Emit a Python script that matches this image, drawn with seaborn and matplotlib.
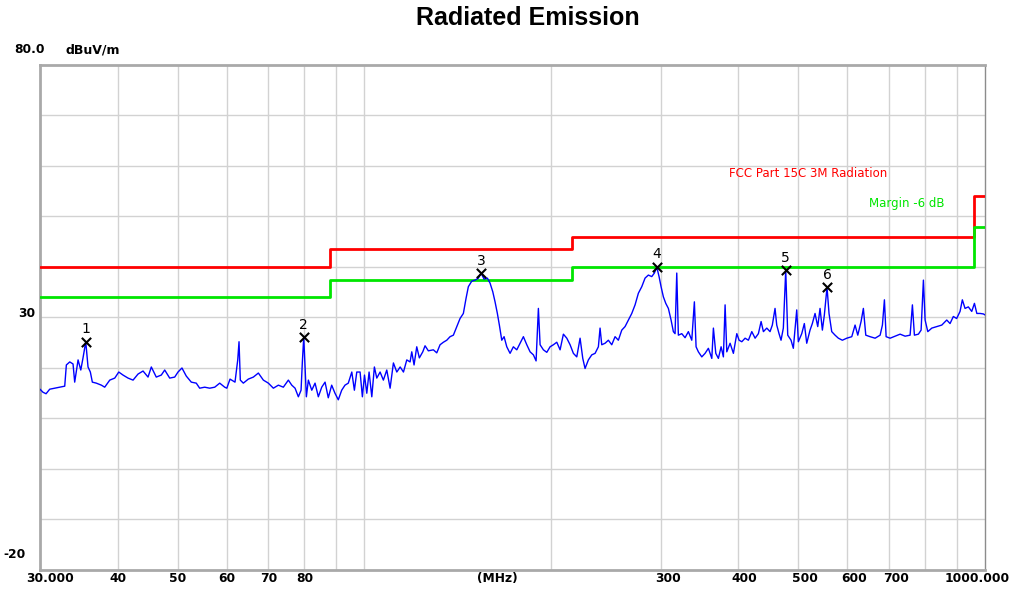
import numpy as np
import pandas as pd
import seaborn as sns
import matplotlib.pyplot as plt
from matplotlib.ticker import NullLocator

trace_freq = [
    30.0, 30.33, 30.68, 31.10, 31.68, 32.28, 32.88, 33.08, 33.50, 33.91,
    34.12, 34.55, 34.90, 35.19, 35.55, 35.85, 36.16, 36.43, 36.97, 37.67,
    38.14, 38.86, 39.59, 40.18, 40.82, 41.59, 42.37, 43.16, 43.97, 44.79,
    45.34, 46.18, 47.05, 47.65, 48.54, 49.45, 50.06, 50.80, 51.62, 52.59,
    53.57, 54.25, 55.27, 56.31, 57.37, 58.44, 59.53, 60.00, 60.72, 61.85,
    62.48, 62.78, 63.08, 63.79, 64.98, 66.21, 67.45, 68.71, 70.00, 71.31,
    72.65, 74.00, 75.39, 76.35, 77.29, 78.24, 79.03, 79.41, 79.82, 80.21,
    80.60, 81.20, 82.23, 83.24, 84.26, 85.33, 86.39, 87.43, 88.54, 89.63,
    90.74, 91.89, 93.02, 94.17, 95.40, 96.32, 97.18, 98.38, 99.22, 100.0,
    100.86, 101.72, 102.75, 103.74, 104.67, 105.96, 107.26, 108.62, 109.97, 111.33,
    112.74, 114.15, 115.56, 116.99, 118.43, 119.17, 120.19, 121.40, 122.58, 124.14,
    125.20, 126.74, 129.12, 130.76, 132.37, 134.00, 135.70, 137.37, 139.07, 140.83,
    142.56, 144.32, 145.77, 147.02, 148.89, 150.73, 152.58, 154.12, 155.84, 157.76,
    159.35, 160.96, 162.33, 163.73, 164.95, 166.43, 167.86, 169.55, 171.63, 173.74,
    175.97, 178.13, 180.33, 182.62, 184.87, 187.15, 189.03, 190.65, 191.86, 194.22,
    196.69, 199.11, 201.56, 204.12, 206.64, 209.18, 211.84, 214.45, 217.08, 219.83,
    222.54, 224.78, 226.70, 229.50, 232.41, 235.28, 238.18, 239.67, 241.18, 244.16,
    247.17, 250.30, 253.39, 256.51, 259.77, 262.97, 266.21, 269.59, 272.91, 276.28,
    279.79, 283.23, 286.72, 290.36, 293.18, 295.80, 298.33, 300.56, 303.13, 305.84,
    308.81, 311.92, 314.59, 316.58, 318.58, 320.48, 324.55, 328.55, 332.61, 336.83,
    340.10, 342.25, 345.18, 349.57, 353.87, 358.23, 362.81, 364.97, 368.23, 371.80,
    375.55, 378.76, 381.16, 383.57, 388.30, 393.08, 398.08, 401.49, 405.53, 410.52,
    415.58, 420.86, 426.04, 431.28, 435.64, 439.37, 444.94, 450.33, 454.18, 458.76,
    461.66, 465.61, 469.08, 473.11, 477.34, 480.90, 486.82, 490.99, 497.22, 500.19,
    506.54, 511.45, 516.02, 522.38, 526.85, 532.17, 537.52, 542.12, 546.85, 550.88,
    556.36, 560.51, 566.17, 573.23, 580.29, 588.97, 598.67, 609.88, 617.39, 623.61,
    631.29, 636.71, 642.41, 652.73, 665.06, 677.52, 683.32, 688.41, 692.76, 703.12,
    716.29, 729.69, 743.35, 757.25, 763.74, 769.43, 780.94, 788.80, 795.56, 800.59,
    808.66, 820.74, 836.10, 851.78, 867.53, 878.23, 889.05, 900.0, 911.43, 919.24,
    928.49, 939.92, 951.87, 961.42, 970.03, 981.98, 994.08, 1000.0,
]
trace_level = [
    15.8, 15.2, 14.9, 15.8, 16.0, 16.2, 16.4, 20.6, 21.2, 20.8,
    17.2, 21.6, 19.6, 22.0, 25.2, 20.2, 19.2, 17.2, 17.0, 16.6,
    16.2, 17.6, 18.0, 19.2, 18.6, 18.0, 17.6, 18.8, 19.4, 18.2,
    20.2, 18.2, 18.6, 19.6, 18.0, 18.2, 19.2, 20.0, 18.4, 17.2,
    17.0, 16.0, 16.2, 16.0, 16.2, 17.0, 16.2, 16.0, 17.8, 17.2,
    21.6, 25.2, 17.6, 17.0, 17.8, 18.2, 19.0, 17.6, 17.0, 16.0,
    16.6, 16.2, 17.6, 16.6, 16.0, 14.3, 15.6, 21.2, 26.1, 20.2,
    14.3, 17.6, 15.6, 17.0, 14.3, 16.2, 17.2, 14.1, 16.6, 15.0,
    13.7, 15.6, 16.6, 17.0, 19.2, 15.6, 19.2, 19.2, 14.3, 18.6,
    15.0, 19.2, 14.3, 20.2, 18.0, 19.2, 17.6, 19.6, 16.0, 21.0,
    19.2, 20.2, 19.2, 21.6, 21.2, 23.2, 20.6, 24.2, 22.0, 23.2,
    24.4, 23.4, 23.6, 23.0, 24.6, 25.1, 25.5, 26.2, 26.5, 28.2,
    29.8, 30.8, 33.8, 36.1, 37.2, 37.4, 37.8, 38.8, 37.6, 37.8,
    36.8, 35.1, 33.1, 30.8, 28.5, 25.5, 26.2, 24.2, 22.9, 24.2,
    23.6, 24.9, 26.2, 24.6, 23.2, 22.6, 21.4, 31.8, 24.6, 23.6,
    23.1, 24.2, 24.6, 25.1, 23.6, 26.7, 25.9, 24.6, 22.9, 22.2,
    25.9, 21.9, 19.9, 21.6, 22.6, 22.9, 24.2, 27.9, 24.6, 24.9,
    25.5, 24.6, 26.2, 25.5, 27.5, 28.2, 29.5, 30.8, 32.5, 34.8,
    36.1, 37.8, 38.4, 38.1, 38.8, 40.0, 38.1, 36.1, 34.1, 32.8,
    31.8, 29.5, 27.2, 26.8, 38.8, 26.5, 26.8, 26.0, 27.2, 25.5,
    33.1, 24.2, 23.2, 22.2, 22.9, 23.9, 21.9, 27.9, 22.9, 21.9,
    24.2, 22.2, 32.5, 23.2, 24.9, 22.9, 26.8, 25.5, 25.2, 25.9,
    25.5, 27.2, 25.9, 26.8, 29.2, 27.2, 27.9, 27.2, 28.5, 31.8,
    28.5, 26.8, 25.5, 27.9, 39.4, 26.5, 25.5, 23.9, 31.5, 25.2,
    26.8, 28.8, 24.9, 27.5, 28.8, 30.8, 28.2, 31.8, 27.5, 30.5,
    36.0, 30.8, 27.2, 26.5, 25.9, 25.5, 25.9, 26.2, 28.5, 26.5,
    29.2, 31.8, 26.5, 26.2, 25.9, 26.5, 28.5, 33.5, 26.2, 25.9,
    26.3, 26.7, 26.3, 26.5, 32.5, 26.5, 26.7, 27.5, 37.4, 29.5,
    27.2, 27.9, 28.2, 28.5, 29.5, 28.8, 30.2, 29.8, 31.2, 33.5,
    31.8, 32.1, 31.2, 32.8, 30.8, 30.8, 30.7, 30.5,
]

# FCC Part 15C 3 m limit and the -6 dB margin line
limit_edges = [30, 88, 216, 960, 1000]
fcc_limit = [40.0, 43.5, 46.0, 54.0, 54.0]
margin_limit = [34.0, 37.5, 40.0, 48.0, 48.0]

# marked peaks
peak_freq = [35.55, 79.82, 154.12, 295.80, 477.34, 556.36]
peak_level = [25.2, 26.1, 38.8, 40.0, 39.4, 36.0]
peak_no = ["1", "2", "3", "4", "5", "6"]

grid_freq = [40, 50, 60, 70, 80, 90, 100, 200, 300, 400, 500, 600, 700, 800, 900]
grid_level = [-10, 0, 10, 20, 30, 40, 50, 60, 70]
x_labels = ["30.000", "40", "50", "60", "70", "80", "(MHz)",
            "300", "400", "500", "600", "700", "1000.000"]
x_label_pos = [31.1, 40, 50, 60, 70, 80, 163.6, 308, 410, 513, 616, 718, 971]
y_labels = ["80.0", "30", "-20"]
y_label_pos = [83.0, 30.8, -17.0]
y_label_x = [-0.0116, -0.0143, -0.0265]

df = pd.DataFrame({"freq": trace_freq, "level": trace_level})
peaks = pd.DataFrame({"freq": peak_freq, "level": peak_level, "no": peak_no})

sns.set_style("white")
plt.rcParams["font.family"] = ["DejaVu Sans"]
plt.rcParams["text.color"] = "black"

fig = plt.figure(figsize=(10.13, 5.93), dpi=100)
ax = fig.add_axes([0.0395, 0.0388, 0.9329, 0.8516])

ax.set_xscale("log")
ax.set_xlim(30, 1000)
ax.set_ylim(-20, 80)
ax.set_xticks(grid_freq)
ax.xaxis.set_minor_locator(NullLocator())
ax.set_yticks(grid_level)
ax.tick_params(length=0, labelbottom=False, labelleft=False)
ax.grid(True, color="#d2d2d2", lw=1.0)
ax.set_axisbelow(True)

for side in ["left", "top", "bottom"]:
    ax.spines[side].set_color("#a9a9a9")
    ax.spines[side].set_linewidth(2.0)
ax.spines["right"].set_color("#8c8c8c")
ax.spines["right"].set_linewidth(1.0)

# limit lines
ax.step(limit_edges, fcc_limit, where="post", color="#ff0000", lw=2.0, zorder=3)
ax.step(limit_edges, margin_limit, where="post", color="#00e600", lw=2.0, zorder=3)

# measured trace
sns.lineplot(data=df, x="freq", y="level", ax=ax, color="#0000ff",
             linewidth=1.0, estimator=None, sort=False, zorder=4)

# peak markers
sns.scatterplot(data=peaks, x="freq", y="level", ax=ax, marker="x",
                color="black", s=45, linewidth=1.5, zorder=5)
for f, lv, n in zip(peak_freq, peak_level, peak_no):
    ax.annotate(n, (f, lv), xytext=(0, 9), textcoords="offset points",
                ha="center", va="center", fontsize=10, color="black", zorder=6)

ax.set_xlabel("")
ax.set_ylabel("")

# axis texts
xt = ax.get_xaxis_transform()
for lab, pos in zip(x_labels, x_label_pos):
    ax.text(pos, -0.016, lab, transform=xt, ha="center", va="center",
            fontsize=8.8, fontweight="bold", clip_on=False)
yt = ax.get_yaxis_transform()
for lab, pos, xp in zip(y_labels, y_label_pos, y_label_x):
    ax.text(xp, pos, lab, transform=yt, ha="center", va="center",
            fontsize=8.8, fontweight="bold", clip_on=False)
ax.text(0.056, 83.0, "dBuV/m", transform=yt, ha="center", va="center",
        fontsize=9, fontweight="bold", clip_on=False)

ax.text(0.7295, 58.5, "FCC Part 15C 3M Radiation", transform=yt,
        ha="left", va="center", fontsize=8.5, color="#ff0000")
ax.text(0.9575, 52.5, "Margin -6 dB", transform=yt,
        ha="right", va="center", fontsize=8.5, color="#00e600")

fig.text(0.521, 0.969, "Radiated Emission", ha="center", va="center",
         fontsize=18, fontweight="bold", color="black",
         family=["Liberation Sans", "DejaVu Sans"])

fig.savefig("out.png", dpi=100)
